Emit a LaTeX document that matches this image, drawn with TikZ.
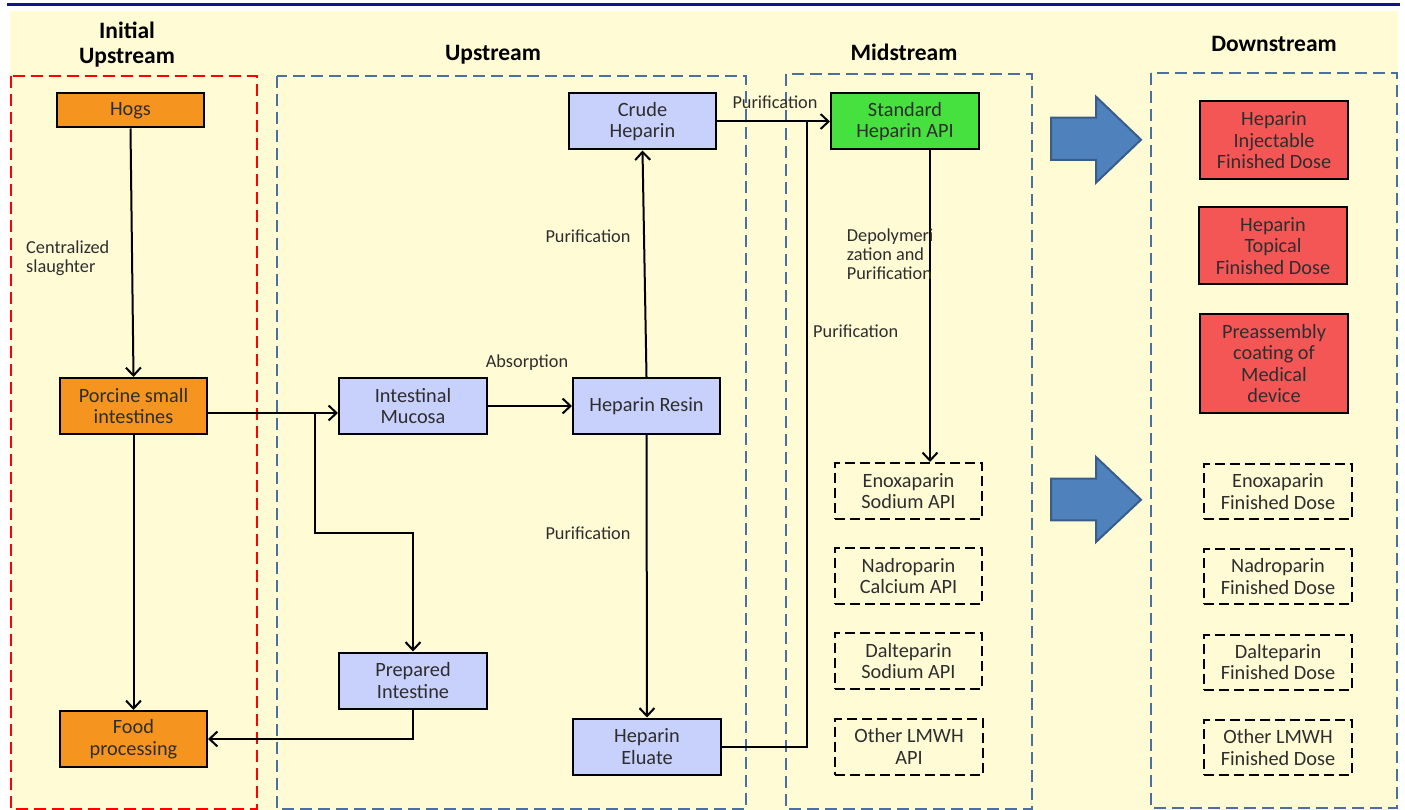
\documentclass[tikz,border=0pt]{standalone}
\usepackage{fontspec}
\setmainfont{Carlito}
\usetikzlibrary{arrows.meta}
\definecolor{bgyellow}{HTML}{FFFBD5}
\definecolor{navyline}{HTML}{14148A}
\definecolor{regblue}{HTML}{4A6FA0}
\definecolor{orangefill}{HTML}{F5951F}
\definecolor{bluefill}{HTML}{C8D0FC}
\definecolor{greenfill}{HTML}{47E13F}
\definecolor{redfill}{HTML}{F45656}
\definecolor{arrowfill}{HTML}{4F81BD}
\definecolor{arrowedge}{HTML}{385D8A}
\definecolor{txt}{HTML}{2E2E2E}
\tikzset{
  boxbase/.style={draw=black, line width=2pt, align=center, inner sep=0pt, text=txt,
    font=\fontsize{20.3}{21.5}\selectfont},
  obox/.style={boxbase, fill=orangefill, minimum width=147pt, minimum height=56pt},
  bbox/.style={boxbase, fill=bluefill, minimum width=147pt, minimum height=56pt},
  gbox/.style={boxbase, fill=greenfill, minimum width=148pt, minimum height=56pt},
  rbox/.style={boxbase, fill=redfill, minimum width=148pt},
  dbox/.style={boxbase, dash pattern=on 10pt off 5pt, minimum width=147pt, minimum height=56pt},
  region/.style={line width=1.7pt, dash pattern=on 12pt off 6pt},
  titletext/.style={align=center, inner sep=0pt, font=\bfseries\fontsize{23.5}{25.5}\selectfont, text=black},
  lab/.style={inner sep=0pt, text=txt, font=\fontsize{18.3}{19}\selectfont},
  conn/.style={line width=2pt, draw=black, -{Straight Barb[length=8pt,width=15pt,line width=2pt]}},
  plain/.style={line width=2pt, draw=black},
  bigarrow/.style={fill=arrowfill, draw=arrowedge, line width=2pt, line join=miter}
}
\begin{document}
\begin{tikzpicture}[x=1pt,y=-1pt]
\useasboundingbox (0,0) rectangle (1405,810);
\fill[white] (0,0) rectangle (1405,810);
\fill[bgyellow] (10,11) rectangle (1398,810);
\draw[navyline, line width=2.5pt] (7,4.7) -- (1400,4.7);

% regions
\draw[region, draw=red] (11,76) rectangle (257,809);
\draw[region, draw=regblue] (277,76) rectangle (746,809);
\draw[region, draw=regblue] (786,74) rectangle (1032,809);
\draw[region, draw=regblue] (1151,72.7) rectangle (1397,807.7);

% titles
\node[titletext] (t1) at (127,44.5) {Initial\\Upstream};
\node[titletext] (t2) at (493,55) {Upstream};
\node[titletext] (t3) at (904,52.5) {Midstream};
\node[titletext] (t4) at (1274,44) {Downstream};

% initial upstream
\node[obox, minimum height=34pt] (hogs) at (130.5,110.5) {Hogs};
\node[obox] (porcine) at (133.5,406) {Porcine small\\intestines};
\node[obox] (food) at (133.5,739) {Food\\processing};

% upstream
\node[bbox, minimum width=148pt] (mucosa) at (413,406) {Intestinal\\Mucosa};
\node[bbox, minimum width=148pt] (prepared) at (413,680.5) {Prepared\\Intestine};
\node[bbox] (crude) at (642.5,121.5) {Crude\\Heparin};
\node[bbox] (resin) at (646.5,406) {Heparin Resin};
\node[bbox, minimum width=148pt] (eluate) at (647,746.5) {Heparin\\Eluate};

% midstream
\node[gbox] (std) at (905,121.5) {Standard\\Heparin API};
\node[dbox] (enox) at (908.5,491) {Enoxaparin\\Sodium API};
\node[dbox] (nadro) at (908.5,576) {Nadroparin\\Calcium API};
\node[dbox] (dalte) at (908.5,661) {Dalteparin\\Sodium API};
\node[dbox, minimum width=148pt] (othapi) at (909,746.5) {Other LMWH\\API};

% downstream
\node[rbox, minimum height=78pt] (inj) at (1274,140.5) {Heparin\\Injectable\\Finished Dose};
\node[rbox, minimum height=77pt] (topi) at (1273,246) {Heparin\\Topical\\Finished Dose};
\node[rbox, minimum height=99pt] (pre) at (1274,363.5) {Preassembly\\coating of\\Medical\\device};
\node[dbox, minimum width=148pt, minimum height=55pt] (enoxf) at (1278,491.5) {Enoxaparin\\Finished Dose};
\node[dbox, minimum width=148pt, minimum height=55pt] (nadrof) at (1278,576.5) {Nadroparin\\Finished Dose};
\node[dbox, minimum width=148pt, minimum height=55pt] (daltef) at (1278,662) {Dalteparin\\Finished Dose};
\node[dbox, minimum width=148pt, minimum height=55pt] (othf) at (1278,747.5) {Other LMWH\\Finished Dose};

% big arrows
\filldraw[bigarrow] (1051,117.7) -- (1096,117.7) -- (1096,96.7) -- (1141,139.7) -- (1096,182.7) -- (1096,160) -- (1051,160) -- cycle;
\filldraw[bigarrow] (1051,478.7) -- (1096,478.7) -- (1096,457) -- (1141,499.7) -- (1096,542) -- (1096,520.3) -- (1051,520.3) -- cycle;

% connectors
\draw[conn] (hogs.south) -- (porcine.north);
\draw[conn] (porcine.south) -- (food.north);
\draw[conn] ([yshift=-7pt]porcine.east) -- ([yshift=-7pt]mucosa.west);
\coordinate (br) at (315,413);
\coordinate (bend) at (315,532.7);
\draw[conn] (br) -- (bend) -| (prepared.north);
\draw[conn] (prepared.south) |- (food.east);
\draw[conn] (mucosa.east) -- (resin.west);
\draw[conn] (resin.north) -- (crude.south);
\draw[conn] (resin.south) -- (eluate.north);
\draw[conn] (crude.east) -- (std.west);
\coordinate (join) at (807,121.5);
\draw[plain] (eluate.east) -| (join);
\draw[conn] ([xshift=25pt]std.south) -- ([xshift=21.5pt]enox.north);

% labels
\node[lab, anchor=west, align=left] (l1) at (26,258) {Centralized\\slaughter};
\node[lab] (l2) at (527,363) {Absorption};
\node[lab] (l3) at (588,236.7) {Purification};
\node[lab] (l4) at (588,533) {Purification};
\node[lab] (l5) at (775,102) {Purification};
\node[lab, anchor=west, align=left] (l6) at (846.7,254.7) {Depolymeri\\zation and\\Purification};
\node[lab, anchor=west] (l7) at (813,331) {Purification};
\end{tikzpicture}
\end{document}
